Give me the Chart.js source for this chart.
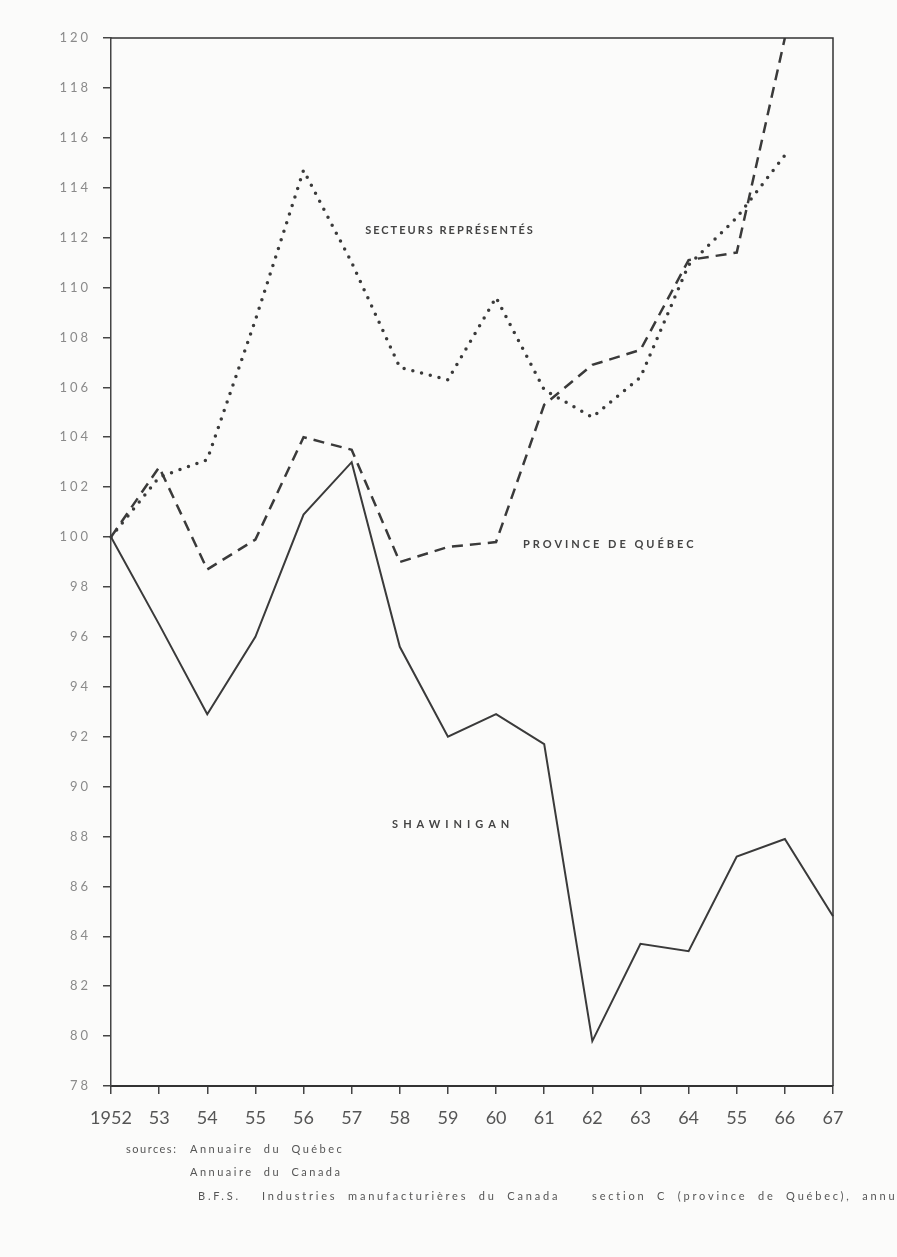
<!DOCTYPE html>
<html lang="fr">
<head>
<meta charset="utf-8">
<title>Shawinigan, Province de Québec, Secteurs représentés 1952-1967</title>
<script src="https://cdn.jsdelivr.net/npm/chart.js@4.4.0/dist/chart.umd.min.js"></script>
<style>
  html, body { margin: 0; padding: 0; background: #fbfbfa; overflow: hidden; }
  #wrap { position: relative; width: 897px; height: 1257px; }
  .src {
    position: absolute;
    white-space: nowrap;
    font-family: Lato, "Noto Sans", sans-serif;
    font-size: 11px;
    line-height: 14px;
    color: #555;
    letter-spacing: 2.5px;
    word-spacing: 5px;
  }
</style>
</head>
<body>
<div id="wrap">
  <canvas id="chart" width="897" height="1257"></canvas>
  <div class="src" style="left:126px; top:1142px; letter-spacing:1.5px;">sources:</div>
  <div class="src" style="left:190px; top:1142px;">Annuaire du Québec</div>
  <div class="src" style="left:190px; top:1165px;">Annuaire du Canada</div>
  <div class="src" style="left:198px; top:1189px; letter-spacing:2.8px;">B.F.S.&nbsp; Industries manufacturières du Canada&nbsp;&nbsp; section C (province de Québec), annu</div>
</div>
<script>
const years = ["1952", "53", "54", "55", "56", "57", "58", "59", "60", "61", "62", "63", "64", "55", "66", "67"];

const shawinigan = [100, 96.5, 92.9, 96.0, 100.9, 103.0, 95.6, 92.0, 92.9, 91.7, 79.8, 83.7, 83.4, 87.2, 87.9, 84.8];
const quebec = [100, 102.8, 98.7, 99.9, 104.0, 103.5, 99.0, 99.6, 99.8, 105.3, 106.9, 107.5, 111.1, 111.4, 120, null];
const secteurs = [100, 102.4, 103.1, 108.7, 114.7, 111.0, 106.8, 106.3, 109.6, 105.9, 104.8, 106.4, 110.9, 112.8, 115.3, null];

const yMin = 78;
const yMax = 120;
const yStep = 2;

// names written next to the lines: [category index, value]
const seriesNames = [
  { text: "SECTEURS REPRÉSENTÉS", at: [5.28, 112.3], spacing: 2 },
  { text: "PROVINCE DE QUÉBEC", at: [8.56, 99.7], spacing: 3 },
  { text: "SHAWINIGAN", at: [5.84, 88.5], spacing: 5 },
];

const ink = "#3a3a3a";

const frame = {
  id: "frame",
  afterDraw(chart) {
    const { ctx, chartArea: a } = chart;
    ctx.save();
    ctx.strokeStyle = "#333";
    ctx.lineWidth = 1.5;
    ctx.beginPath();
    ctx.moveTo(a.left, a.top);
    ctx.lineTo(a.right, a.top);
    ctx.lineTo(a.right, a.bottom);
    ctx.stroke();
    ctx.restore();
  },
};

const names = {
  id: "names",
  afterDatasetsDraw(chart) {
    const { ctx, scales } = chart;
    ctx.save();
    ctx.fillStyle = "#444";
    ctx.font = "bold 11px Lato, 'Noto Sans', sans-serif";
    ctx.textAlign = "left";
    ctx.textBaseline = "middle";
    seriesNames.forEach(n => {
      ctx.letterSpacing = n.spacing + "px";
      ctx.fillText(n.text, scales.x.getPixelForValue(n.at[0]), scales.y.getPixelForValue(n.at[1]));
    });
    ctx.restore();
  },
};

// y tick labels are typed with spaced digits
const spacedYTicks = {
  id: "spacedYTicks",
  beforeDraw(chart) {
    const s = chart.scales.y;
    if (s._spaced) return;
    const orig = s.drawLabels.bind(s);
    s.drawLabels = area => {
      chart.ctx.save();
      chart.ctx.letterSpacing = "3px";
      orig(area);
      chart.ctx.restore();
    };
    s._spaced = true;
  },
};

new Chart(document.getElementById("chart"), {
  type: "line",
  data: {
    labels: years,
    datasets: [
      {
        label: "Shawinigan",
        data: shawinigan,
        borderColor: ink,
        borderWidth: 2,
        pointRadius: 0,
        tension: 0,
      },
      {
        label: "Province de Québec",
        data: quebec,
        borderColor: ink,
        borderWidth: 2.5,
        borderDash: [11, 7],
        pointRadius: 0,
        tension: 0,
      },
      {
        label: "Secteurs représentés",
        data: secteurs,
        borderColor: ink,
        borderWidth: 3.5,
        borderDash: [0, 9],
        borderCapStyle: "round",
        pointRadius: 0,
        tension: 0,
      },
    ],
  },
  options: {
    responsive: false,
    animation: false,
    devicePixelRatio: 1,
    layout: { padding: { top: 38, right: 64, bottom: 111, left: 0 } },
    plugins: {
      legend: { display: false },
      tooltip: { enabled: false },
    },
    scales: {
      x: {
        offset: false,
        afterFit: s => { s.height = 60; },
        border: { color: "#333", width: 2 },
        grid: { drawOnChartArea: false, drawTicks: true, tickLength: 8, color: "#444", lineWidth: 1.5 },
        ticks: {
          autoSkip: false,
          maxRotation: 0,
          padding: 13,
          color: "#555",
          font: { family: "Lato, 'Noto Sans', sans-serif", size: 18 },
        },
      },
      y: {
        min: yMin,
        max: yMax,
        afterFit: s => { s.width = 111; },
        border: { color: "#444", width: 1.5 },
        grid: { drawOnChartArea: false, drawTicks: true, tickLength: 8, color: "#444", lineWidth: 1.5 },
        ticks: {
          stepSize: yStep,
          padding: 12,
          color: "#8a8a8a",
          font: { family: "Lato, 'Noto Sans', sans-serif", size: 13 },
        },
      },
    },
  },
  plugins: [frame, names, spacedYTicks],
});
</script>
</body>
</html>
